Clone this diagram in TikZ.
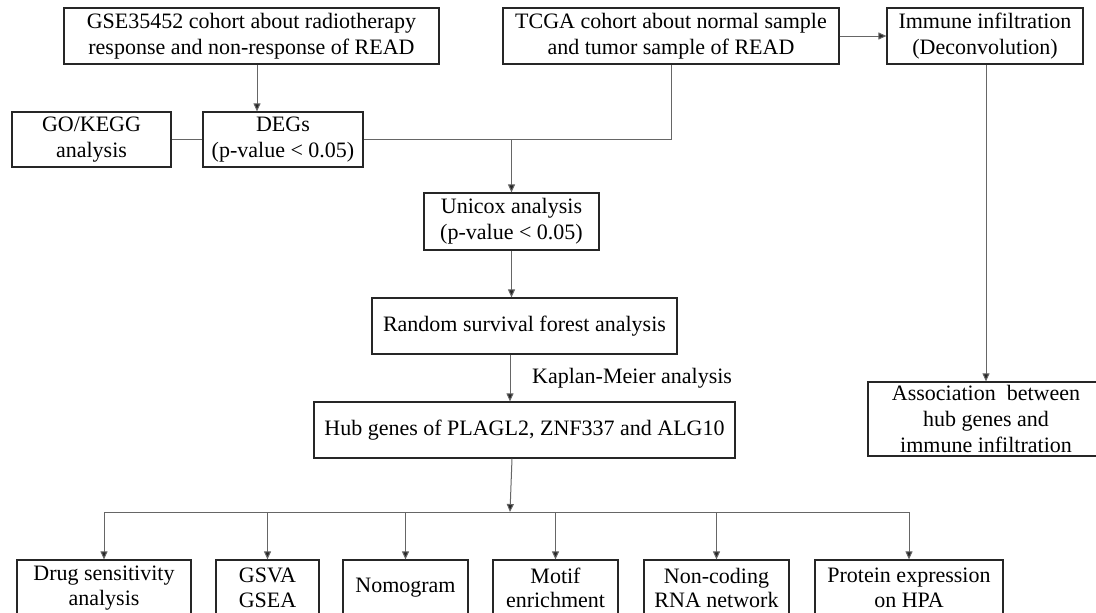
\documentclass[tikz,border=0pt]{standalone}
\usepackage{fontspec}
\setmainfont{Liberation Serif}
\usetikzlibrary{arrows.meta}
\begin{document}
\begin{tikzpicture}[x=1pt,y=-1pt,
  box/.style={draw=black!85,line width=1.2pt,fill=white,inner sep=0pt,align=center,
    font=\fontsize{22}{26}\selectfont},
  lowbox/.style={box,font=\fontsize{22}{24.5}\selectfont},
  conn/.style={draw=black!60,line width=1pt},
  arr/.style={conn,-{Triangle[length=8pt,width=7pt,fill=black!85]},shorten >=0pt}]
\useasboundingbox (0,0) rectangle (1096,613);
\clip (0,0) rectangle (1096,613);
\fill[white] (0,0) rectangle (1096,613);
% boxes
\node[box,minimum width=375pt,minimum height=56pt] (gse) at (251.5,36) {GSE35452 cohort about radiotherapy\\response and non-response of READ};
\node[box,minimum width=336pt,minimum height=56pt] (tcga) at (671,36) {TCGA cohort about normal sample\\and tumor sample of READ};
\node[box,minimum width=196pt,minimum height=56pt] (imm) at (985,36) {Immune infiltration\\(Deconvolution)};
\node[box,minimum width=159pt,minimum height=55pt] (gok) at (91.5,139.5) {GO/KEGG\\analysis};
\node[box,minimum width=160pt,minimum height=55pt] (degs) at (283,139.5) {DEGs\\(p-value < 0.05)};
\node[box,minimum width=175pt,minimum height=57pt] (unicox) at (511.5,221.5) {Unicox analysis\\(p-value < 0.05)};
\node[box,minimum width=305pt,minimum height=56pt] (rsf) at (524.5,326) {Random survival forest analysis};
\node[box,minimum width=421pt,minimum height=56pt] (hub) at (524.5,430) {Hub genes of PLAGL2, ZNF337 and ALG10};
\node[box,minimum width=236pt,minimum height=74pt] (assoc) at (986,419) {Association\ \ between\\hub genes and\\immune infiltration};
\node[lowbox,minimum width=174pt,minimum height=56pt] (drug) at (104,588) {Drug sensitivity\\analysis};
\node[lowbox,minimum width=103pt,minimum height=56pt] (gsva) at (267.5,588) {GSVA\\GSEA};
\node[lowbox,minimum width=125pt,minimum height=56pt] (nomo) at (405.5,588) {Nomogram};
\node[lowbox,minimum width=125pt,minimum height=56pt] (motif) at (555.5,588) {Motif\\enrichment};
\node[lowbox,minimum width=145pt,minimum height=56pt] (nonc) at (716.5,588) {Non-coding\\RNA network};
\node[lowbox,minimum width=188pt,minimum height=56pt] (prot) at (909,588) {Protein expression\\on HPA};
% connectors
\draw[arr] ([xshift=5.5pt]gse.south) -- ([xshift=5.5pt]gse.south |- degs.north);
\draw[conn] (gok.east) -- (degs.west);
\draw[conn] (degs.east) -| (tcga.south);
\coordinate (j1) at (unicox.north |- degs.east);
\draw[arr] (j1) -- (unicox.north);
\draw[arr] (tcga.east) -- (imm.west);
\draw[arr] (imm.south -| assoc.north) -- (assoc.north);
\draw[arr] (unicox.south) -- (unicox.south |- rsf.north);
\draw[arr] ([xshift=-14.5pt]rsf.south) -- ([xshift=-14.5pt]rsf.south |- hub.north);
\node[anchor=west,inner sep=0pt,font=\fontsize{22}{26}\selectfont] (km) at (532,378) {Kaplan-Meier analysis};
\coordinate (br) at (510,512);
\draw[arr] ([xshift=-12.5pt]hub.south) -- (br);
\draw[conn] (drug.north |- br) -- (prot.north |- br);
\foreach \n in {drug,gsva,nomo,motif,nonc,prot}{
  \draw[arr] (\n.north |- br) -- (\n.north);
}
\end{tikzpicture}
\end{document}
